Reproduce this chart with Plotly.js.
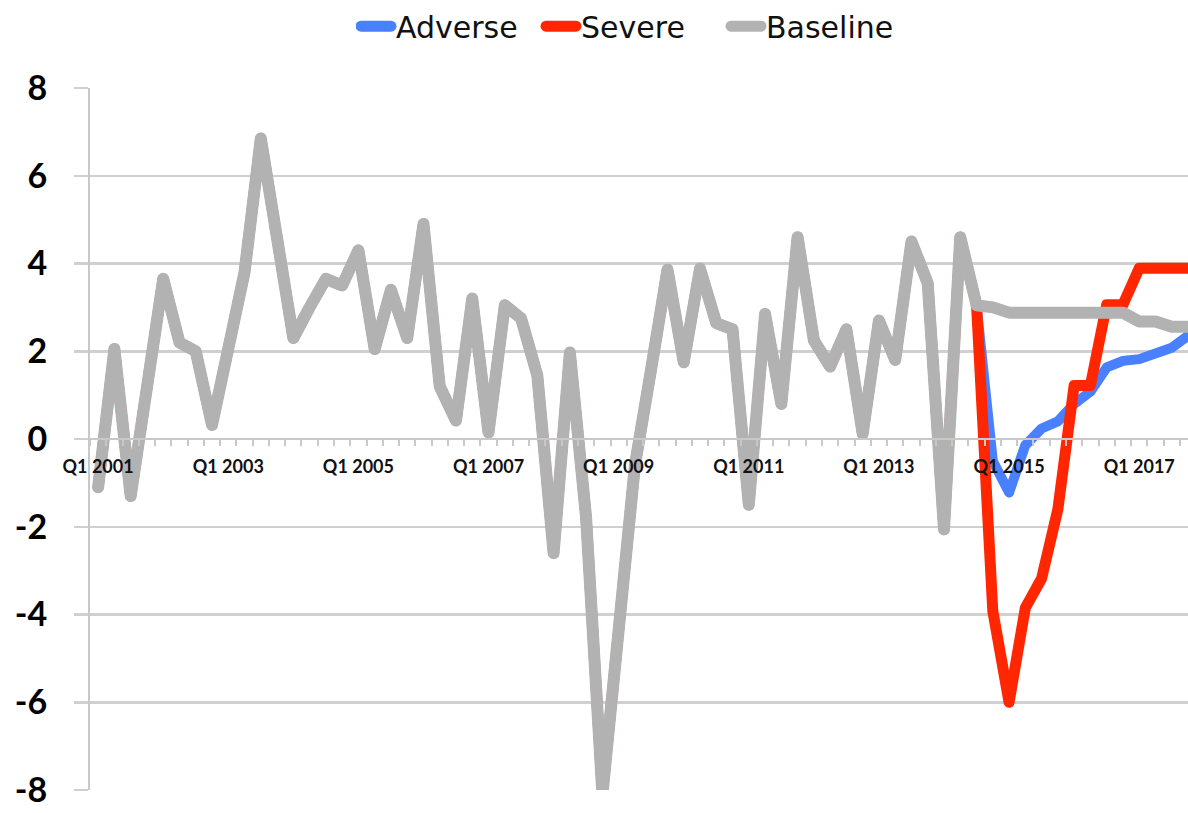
<!DOCTYPE html>
<html>
<head>
<meta charset="utf-8">
<script src="https://cdn.plot.ly/plotly-3.0.1.min.js"></script>
<style>
  html, body { margin: 0; padding: 0; background: #fff; }
  #chart { width: 1188px; height: 813px; }
  .js-line { stroke-linejoin: round !important; stroke-linecap: round !important; }
  .legend .js-line { stroke-width: 11px !important; }
</style>
</head>
<body>
<div id="chart"></div>
<script>
// Quarter labels Q1 2001 ... Q4 2017
const years = [2001,2002,2003,2004,2005,2006,2007,2008,2009,2010,2011,2012,2013,2014,2015,2016,2017];
const quarterNames = ["Q1","Q2","Q3","Q4"];

// Shared history (Q1 2001 .. Q3 2014)
const history = [
  -1.1, 2.05, -1.3, 1.2, 3.65, 2.2, 2.0, 0.32,
  2.0, 3.8, 6.85, 4.7, 2.3, 3.0, 3.65, 3.5,
  4.3, 2.05, 3.4, 2.3, 4.9, 1.2, 0.42, 3.2,
  0.15, 3.05, 2.75, 1.45, -2.6, 1.97, -1.8, -8.1,
  -4.2, -0.6, 1.6, 3.86, 1.75, 3.88, 2.64, 2.5,
  -1.5, 2.85, 0.8, 4.6, 2.25, 1.65, 2.5, 0.12,
  2.7, 1.8, 4.5, 3.55, -2.06, 4.6, 3.05
];

// Projections from Q4 2014 onward (after the shared last history point)
const adverseProj  = [-0.5, -1.22, -0.14, 0.24, 0.4, 0.8, 1.08, 1.63, 1.78, 1.82, 1.97, 2.08, 2.35];
const severeProj   = [-3.92, -6.0, -3.85, -3.18, -1.6, 1.22, 1.22, 3.06, 3.06, 3.89, 3.89, 3.89, 3.89];
const baselineProj = [3.0, 2.88, 2.88, 2.88, 2.88, 2.88, 2.88, 2.88, 2.88, 2.68, 2.68, 2.56, 2.56];

const tickLabels = ["Q1 2001","Q1 2003","Q1 2005","Q1 2007","Q1 2009","Q1 2011","Q1 2013","Q1 2015","Q1 2017"];
const yTicks = [-8,-6,-4,-2,0,2,4,6,8];

const quarters = [];
years.forEach(y => quarterNames.forEach(q => quarters.push(q + " " + y)));

const adverse = history.concat(adverseProj);
const severe = history.concat(severeProj);
const baseline = history.concat(baselineProj);
const idx = arr => arr.map((_, i) => i);
const tickVals = tickLabels.map(t => quarters.indexOf(t));

const traces = [
  { name: "Adverse", x: idx(adverse), y: adverse, text: quarters, mode: "lines",
    line: { color: "#4880FF", width: 10 } },
  { name: "Severe", x: idx(severe), y: severe, text: quarters, mode: "lines",
    line: { color: "#FF2600", width: 11 } },
  { name: "Baseline", x: idx(baseline), y: baseline, text: quarters, mode: "lines",
    line: { color: "#B2B2B2", width: 12 } }
];

const layout = {
  width: 1188, height: 813,
  margin: { l: 90, r: 0, t: 88, b: 23 },
  paper_bgcolor: "#ffffff", plot_bgcolor: "#ffffff",
  showlegend: true,
  legend: {
    orientation: "h", x: 0.495, xanchor: "center", y: 1.088, yanchor: "middle",
    font: { family: "DejaVu Sans", size: 30, color: "#111" },
    itemwidth: 30, entrywidth: 140, entrywidthmode: "pixels",
    itemclick: false, traceorder: "normal"
  },
  xaxis: {
    range: [-0.5, 67], anchor: "free", position: 0.5,
    showline: true, linecolor: "#c8c8c8", linewidth: 2,
    showgrid: false, zeroline: false,
    tickmode: "array", tickvals: tickVals, ticktext: tickLabels,
    ticks: "", ticklabelstandoff: 11,
    tickfont: { family: "Lato", size: 18, color: "#111", weight: "bold" },
    minor: { tickmode: "linear", tick0: 0.5, dtick: 1, ticks: "outside", ticklen: 6,
             tickwidth: 2, tickcolor: "#c8c8c8", showgrid: false },
    fixedrange: true
  },
  yaxis: {
    range: [-8, 8], tickmode: "array", tickvals: yTicks, ticktext: yTicks.map(String),
    showgrid: true, gridcolor: "#d0d0d0", gridwidth: 2.5,
    zeroline: false, showline: true, linecolor: "#c8c8c8", linewidth: 2,
    ticks: "outside", ticklen: 14, tickwidth: 2.5, tickcolor: "#d0d0d0",
    ticklabelstandoff: 20,
    tickfont: { family: "Lato", size: 34, color: "#000", weight: "bold" },
    fixedrange: true
  },
  hovermode: false
};

Plotly.newPlot("chart", traces, layout, { displayModeBar: false, staticPlot: true });
</script>
</body>
</html>
